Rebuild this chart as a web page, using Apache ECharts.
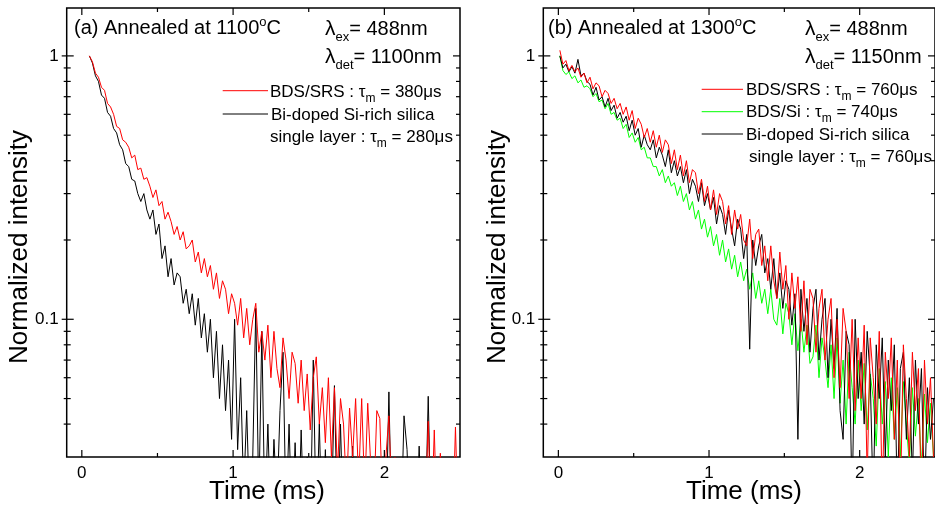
<!DOCTYPE html>
<html>
<head>
<meta charset="utf-8">
<script src="https://cdn.jsdelivr.net/npm/echarts@6/dist/echarts.min.js"></script>
<style>
html,body{margin:0;padding:0;background:#fff;}
#chart{width:935px;height:511px;}
</style>
</head>
<body>
<div id="chart"></div>
<script>
// ---- data (time in ms, normalized intensity) ----
const time = [
0.01,0.03,0.05,0.07,0.09,0.11,0.13,0.15,0.17,0.19,
0.21,0.23,0.25,0.27,0.29,0.31,0.33,0.35,0.37,0.39,
0.41,0.43,0.45,0.47,0.49,0.51,0.53,0.55,0.57,0.59,
0.61,0.63,0.65,0.67,0.69,0.71,0.73,0.75,0.77,0.79,
0.81,0.83,0.85,0.87,0.89,0.91,0.93,0.95,0.97,0.99,
1.01,1.03,1.05,1.07,1.09,1.11,1.13,1.15,1.17,1.19,
1.21,1.23,1.25,1.27,1.29,1.31,1.33,1.35,1.37,1.39,
1.41,1.43,1.45,1.47,1.49,1.51,1.53,1.55,1.57,1.59,
1.61,1.63,1.65,1.67,1.69,1.71,1.73,1.75,1.77,1.79,
1.81,1.83,1.85,1.87,1.89,1.91,1.93,1.95,1.97,1.99,
2.01,2.03,2.05,2.07,2.09,2.11,2.13,2.15,2.17,2.19,
2.21,2.23,2.25,2.27,2.29,2.31,2.33,2.35,2.37,2.39,
2.41,2.43,2.45,2.47,2.49];

// Panel (a): annealed at 1100 C
const redA = [null,null,
1.00,0.95,0.86,0.83,0.76,0.74,0.66,0.64,0.60,0.54,
0.53,0.48,0.47,0.45,0.41,0.42,0.37,0.375,0.34,0.345,
0.32,0.29,0.31,0.27,0.28,0.24,0.255,0.235,0.21,0.225,
0.20,0.215,0.185,0.19,0.20,0.165,0.18,0.15,0.17,0.145,
0.16,0.13,0.15,0.12,0.14,0.13,0.105,0.125,0.115,0.095,
0.12,0.085,0.11,0.08,0.10,0.115,0.075,0.09,0.07,0.095,
0.06,0.09,0.065,0.055,0.085,0.07,0.05,0.075,0.068,0.048,
0.07,0.045,0.062,0.038,0.06,0.072,0.04,0.055,0.034,0.06,
0.03,0.055,0.026,0.05,0.04,0.022,0.046,0.03,0.05,0.024,
0.05,0.022,0.048,0.028,0.02,0.045,0.042,0.018,0.03,0.043,
0.02,0.03,0.016,0.024,0.015,0.021,0.017,0.015,0.02,0.016,
0.015,0.018,0.041,0.016,0.038,0.015,0.031,0.016,0.015,0.017,
0.015,0.039,0.015];
const blackA = [null,null,
1.00,0.94,0.84,0.80,0.71,0.69,0.61,0.59,0.53,0.51,
0.46,0.44,0.39,0.38,0.34,0.335,0.30,0.28,0.30,0.26,
0.24,0.26,0.21,0.23,0.17,0.19,0.145,0.17,0.135,0.15,
0.145,0.115,0.13,0.105,0.125,0.095,0.12,0.085,0.105,0.075,
0.10,0.06,0.09,0.05,0.08,0.045,0.07,0.035,0.10,0.032,
0.06,0.022,0.045,0.018,0.03,0.11,0.02,0.09,0.018,0.04,
0.016,0.035,0.02,0.045,0.075,0.018,0.04,0.016,0.034,0.015,
0.038,0.016,0.03,0.015,0.07,0.016,0.04,0.015,0.032,0.015,
0.018,0.056,0.016,0.04,0.015,0.02,0.015,0.033,0.015,0.018,
0.015,0.016,0.015,0.02,0.015,0.016,0.015,0.018,0.015,0.053,
0.015,0.016,0.015,0.016,0.043,0.032,0.015,0.016,0.015,0.033,
0.015,0.016,0.051,0.015,0.016,0.015,0.015,0.015,0.015,0.015,
0.015,0.015,0.015];

// Panel (b): annealed at 1300 C
const redB = [
1.05,0.93,0.96,0.88,0.92,0.87,0.90,0.83,0.86,0.79,
0.83,0.75,0.79,0.77,0.70,0.74,0.72,0.66,0.69,0.63,
0.66,0.60,0.64,0.57,0.62,0.53,0.58,0.55,0.49,0.53,
0.47,0.52,0.45,0.50,0.43,0.48,0.46,0.39,0.44,0.37,
0.42,0.35,0.40,0.33,0.37,0.36,0.30,0.34,0.28,0.32,
0.26,0.31,0.25,0.30,0.28,0.23,0.27,0.21,0.26,0.22,
0.25,0.20,0.19,0.24,0.17,0.21,0.22,0.16,0.19,0.14,
0.19,0.14,0.12,0.18,0.13,0.16,0.10,0.15,0.11,0.145,
0.09,0.14,0.08,0.13,0.12,0.075,0.11,0.13,0.07,0.10,
0.12,0.06,0.10,0.055,0.11,0.09,0.05,0.10,0.045,0.085,
0.05,0.095,0.025,0.085,0.06,0.04,0.09,0.02,0.075,0.05,
0.085,0.035,0.07,0.02,0.08,0.05,0.03,0.075,0.045,0.065,
0.02,0.07,0.04,0.06,0.03];
const greenB = [
1.0,0.88,0.85,0.87,0.82,0.84,0.79,0.81,0.76,0.77,
0.75,0.70,0.72,0.67,0.68,0.63,0.66,0.60,0.61,0.57,
0.58,0.53,0.55,0.49,0.51,0.47,0.49,0.44,0.45,0.41,
0.41,0.38,0.38,0.35,0.37,0.33,0.35,0.32,0.33,0.295,
0.32,0.28,0.30,0.26,0.28,0.24,0.26,0.22,0.24,0.205,
0.225,0.19,0.21,0.175,0.20,0.165,0.185,0.155,0.175,0.145,
0.165,0.14,0.155,0.13,0.15,0.12,0.14,0.115,0.13,0.105,
0.13,0.10,0.095,0.12,0.088,0.115,0.105,0.08,0.105,0.076,
0.10,0.075,0.095,0.068,0.072,0.095,0.06,0.085,0.07,0.055,
0.08,0.05,0.085,0.048,0.07,0.04,0.075,0.055,0.04,0.07,
0.045,0.068,0.038,0.062,0.05,0.033,0.065,0.04,0.058,0.03,
0.06,0.035,0.055,0.03,0.058,0.04,0.028,0.055,0.036,0.05,
0.027,0.052,0.034,0.048,0.03];
const blackB = [
1.0,0.90,0.93,0.87,0.91,0.86,0.97,0.84,0.86,0.80,
0.78,0.71,0.76,0.68,0.70,0.64,0.69,0.62,0.65,0.58,
0.61,0.56,0.59,0.52,0.57,0.50,0.53,0.45,0.50,0.46,
0.44,0.48,0.41,0.45,0.42,0.38,0.44,0.36,0.40,0.35,
0.38,0.33,0.37,0.30,0.34,0.32,0.28,0.33,0.27,0.30,
0.26,0.29,0.23,0.27,0.25,0.21,0.26,0.22,0.19,0.24,
0.22,0.17,0.21,0.077,0.20,0.16,0.19,0.21,0.15,0.17,
0.13,0.17,0.12,0.15,0.11,0.14,0.13,0.095,0.125,0.035,
0.13,0.09,0.12,0.075,0.11,0.13,0.07,0.10,0.12,0.06,
0.10,0.065,0.11,0.045,0.035,0.09,0.08,0.02,0.10,0.05,
0.075,0.04,0.09,0.06,0.02,0.08,0.05,0.085,0.03,0.07,
0.045,0.08,0.02,0.065,0.075,0.035,0.06,0.025,0.07,0.04,
0.065,0.02,0.055,0.035,0.05];

// tick values
const xLabels = [0, 1, 2];
const xMajorTicks = [0, 1, 2];
const xMinorTicks = [0.5, 1.5];
const yLabels = [0.1, 1];
const yMajorTicks = [0.1, 1];
const yMinorTicks = [0.9,0.8,0.7,0.6,0.5,0.4,0.3,0.2,0.09,0.08,0.07,0.06,0.05,0.04];

// ---- build ----
const FONT = 'Liberation Sans, Arial, Helvetica, sans-serif';
function pairs(arr) {
  const out = [];
  for (let i = 0; i < time.length; i++) if (arr[i] != null) out.push([time[i], arr[i]]);
  return out;
}
const tickData = [];
yMajorTicks.forEach(v => tickData.push([0, v, 0]));
yMinorTicks.forEach(v => tickData.push([0, v, 1]));
xMajorTicks.forEach(v => tickData.push([v, 1, 2]));
xMinorTicks.forEach(v => tickData.push([v, 1, 3]));

function tickRender(params, api) {
  const cs = params.coordSys;
  const kind = api.value(2);
  const st = {stroke: '#000', lineWidth: 1.2};
  if (kind <= 1) {
    const py = api.coord([0, api.value(1)])[1];
    const out = kind === 0 ? 5 : 3, inn = kind === 0 ? 7 : 4;
    return {type: 'group', children: [
      {type: 'line', shape: {x1: cs.x - out, y1: py, x2: cs.x + inn, y2: py}, style: st},
      {type: 'line', shape: {x1: cs.x + cs.width - inn, y1: py, x2: cs.x + cs.width, y2: py}, style: st}
    ]};
  } else {
    const px = api.coord([api.value(0), 1])[0];
    const len = kind === 2 ? 7 : 4;
    const yb = cs.y + cs.height, yt = cs.y;
    return {type: 'group', children: [
      {type: 'line', shape: {x1: px, y1: yb, x2: px, y2: yb - len}, style: st},
      {type: 'line', shape: {x1: px, y1: yt, x2: px, y2: yt + len}, style: st}
    ]};
  }
}

function xAxisCfg(gi) {
  return {
    type: 'value', gridIndex: gi, min: -0.1, max: 2.5,
    axisLine: {show: false}, axisTick: {show: false}, splitLine: {show: false},
    axisLabel: {
      customValues: xLabels, fontSize: 17, fontFamily: FONT, color: '#000', margin: 8,
      formatter: v => (xLabels.some(t => Math.abs(t - v) < 1e-6) ? String(Math.round(v)) : '')
    }
  };
}
function yAxisCfg(gi) {
  return {
    type: 'log', logBase: 10, gridIndex: gi, min: 0.03, max: 1.52,
    axisLine: {show: false}, axisTick: {show: false}, splitLine: {show: false},
    minorTick: {show: false},
    axisLabel: {
      fontSize: 17, fontFamily: FONT, color: '#000', margin: 8,
      showMinLabel: false, showMaxLabel: false,
      formatter: v => {
        for (const t of yLabels) if (Math.abs(v - t) / t < 1e-4) return String(t);
        return '';
      }
    }
  };
}
function lineSeries(name, data, color, gi) {
  return {
    name, type: 'line', xAxisIndex: gi, yAxisIndex: gi, data: pairs(data),
    showSymbol: false, symbol: 'none', clip: true, animation: false,
    lineStyle: {color, width: 1}, itemStyle: {color}, silent: true
  };
}
function tickSeries(gi) {
  return {
    type: 'custom', xAxisIndex: gi, yAxisIndex: gi, data: tickData,
    encode: {x: 0, y: 1}, renderItem: tickRender, clip: false, silent: true, z: 10, animation: false
  };
}

const baseText = {fontFamily: FONT, fill: '#000', verticalAlign: 'middle', align: 'left'};
function txt(x, y, text, size, rich) {
  return {type: 'text', x, y, z: 100, silent: true,
    style: Object.assign({}, baseText, {text, fontSize: size, rich: rich || {}})};
}
function axisName(x, y, text, rot) {
  return {type: 'text', x, y, rotation: rot, z: 100, silent: true,
    style: {text, fontFamily: FONT, fontSize: 26, fill: '#000', align: 'center', verticalAlign: 'middle'}};
}
const richTitle = {sup: {fontSize: 13, fontFamily: FONT, padding: [0, 0, 12, 0]}};
const richLam = {sub: {fontSize: 13, fontFamily: FONT, padding: [17, 0, 0, 0]},
                 l: {fontSize: 21, fontFamily: FONT}};
const richTau = {s: {fontSize: 12, fontFamily: FONT, padding: [14, 0, 0, 0]}};
function legLine(x1, x2, y, color) {
  return {type: 'line', z: 100, silent: true, shape: {x1, y1: y, x2, y2: y}, style: {stroke: color, lineWidth: 1}};
}

const graphics = [
  axisName(19.5, 247, 'Normalized intensity', Math.PI / 2),
  axisName(497.5, 247, 'Normalized intensity', Math.PI / 2),
  axisName(267, 492, 'Time (ms)', 0),
  axisName(744, 492, 'Time (ms)', 0),

  txt(74, 28, '(a) Annealed at 1100{sup|o}C', 20, richTitle),
  txt(325, 29, '{l|λ}{sub|ex}= 488nm', 20, richLam),
  txt(325, 57, '{l|λ}{sub|det}= 1100nm', 20, richLam),
  legLine(222.7, 268, 90.7, '#ff0000'),
  legLine(222.7, 268, 114, '#000000'),
  txt(270, 92, 'BDS/SRS : τ{s|m} = 380μs', 17, richTau),
  txt(271, 115, 'Bi-doped Si-rich silica', 17),
  txt(270, 137, 'single layer : τ{s|m} = 280μs', 17, richTau),

  txt(548, 28, '(b) Annealed at 1300{sup|o}C', 20, richTitle),
  txt(805, 29, '{l|λ}{sub|ex}= 488nm', 20, richLam),
  txt(805, 57, '{l|λ}{sub|det}= 1150nm', 20, richLam),
  legLine(701.7, 743, 89.3, '#ff0000'),
  legLine(701.7, 743, 111.7, '#00ff00'),
  legLine(701.7, 743, 134, '#000000'),
  txt(746, 90, 'BDS/SRS : τ{s|m} = 760μs', 17, richTau),
  txt(746, 112, 'BDS/Si : τ{s|m} = 740μs', 17, richTau),
  txt(746, 135, 'Bi-doped Si-rich silica', 17),
  txt(749, 157, 'single layer : τ{s|m} = 760μs', 17, richTau)
];

const chart = echarts.init(document.getElementById('chart'), null, {renderer: 'canvas'});
chart.setOption({
  animation: false,
  backgroundColor: '#fff',
  textStyle: {fontFamily: FONT},
  grid: [
    {left: 66.7, top: 8, width: 393.3, height: 449, show: true, borderColor: '#000', borderWidth: 1.5, backgroundColor: 'transparent', containLabel: false},
    {left: 543.3, top: 8, width: 393, height: 449, show: true, borderColor: '#000', borderWidth: 1.5, backgroundColor: 'transparent', containLabel: false}
  ],
  xAxis: [xAxisCfg(0), xAxisCfg(1)],
  yAxis: [yAxisCfg(0), yAxisCfg(1)],
  series: [
    lineSeries('Bi-doped Si-rich silica single layer (1100)', blackA, '#000000', 0),
    lineSeries('BDS/SRS (1100)', redA, '#ff0000', 0),
    lineSeries('BDS/Si (1300)', greenB, '#00ff00', 1),
    lineSeries('Bi-doped Si-rich silica single layer (1300)', blackB, '#000000', 1),
    lineSeries('BDS/SRS (1300)', redB, '#ff0000', 1),
    tickSeries(0),
    tickSeries(1)
  ],
  graphic: graphics
});
</script>
</body>
</html>
